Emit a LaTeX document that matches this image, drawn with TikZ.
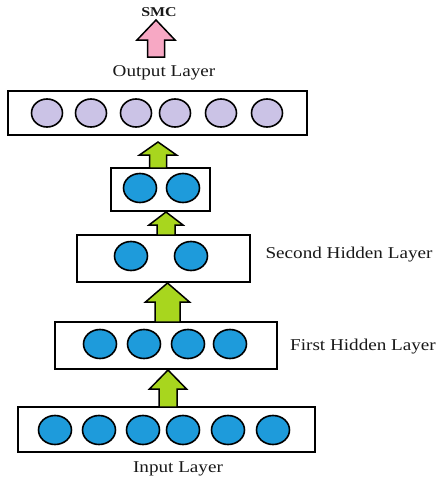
\documentclass[tikz,border=0pt]{standalone}
\usepackage{fontspec}
\setmainfont{Liberation Serif}
\usetikzlibrary{shapes.geometric}
\definecolor{nodeblue}{HTML}{1E9BDB}
\definecolor{nodelilac}{HTML}{CBC3E6}
\definecolor{arrgreen}{HTML}{A8D61E}
\definecolor{arrpink}{HTML}{F7A8C4}
\newcommand\blockarrow[7]{% fill, x, tip, base, bottom, head half, shaft half
  \draw[arrowline, fill=#1] (#2-#7,#5) -- (#2-#7,#4) -- (#2-#6,#4) -- (#2,#3)
    -- (#2+#6,#4) -- (#2+#7,#4) -- (#2+#7,#5) -- cycle;}
\begin{document}
\begin{tikzpicture}[x=1pt,y=-1pt,
  layerbox/.style={draw=black, line width=1.9pt, fill=white},
  neuron/.style={ellipse, draw=black, line width=1.6pt, fill=nodeblue,
    minimum width=33pt, minimum height=29pt, inner sep=0pt},
  outneuron/.style={neuron, fill=nodelilac, minimum width=31pt, minimum height=28pt},
  arrowline/.style={draw=black, line width=1.5pt, line join=miter},
  lbl/.style={font=\fontsize{16.5pt}{18pt}\selectfont, text=black!90, inner sep=0pt}]
\useasboundingbox (0,0) rectangle (437,483);
\fill[white] (0,0) rectangle (437,483);
% layer boxes
\draw[layerbox] (8,91) rectangle (307,135);
\draw[layerbox] (111,168) rectangle (210,211);
\draw[layerbox] (77,235) rectangle (250,282);
\draw[layerbox] (55,322) rectangle (277,369);
\draw[layerbox] (18,407) rectangle (315,452);
% output neurons
\foreach \x [count=\i] in {47,91,136,175,221,267}
  \node[outneuron] (o\i) at (\x,113) {};
% top hidden (2 nodes)
\foreach \x [count=\i] in {140,183}
  \node[neuron] (t\i) at (\x,188) {};
% second hidden layer
\foreach \x [count=\i] in {131,191}
  \node[neuron] (s\i) at (\x,256) {};
% first hidden layer
\foreach \x [count=\i] in {100,144,188,230}
  \node[neuron] (f\i) at (\x,344) {};
% input layer
\foreach \x [count=\i] in {55,99,143,183,228,273}
  \node[neuron] (in\i) at (\x,430) {};
% block arrows
\blockarrow{arrpink}{156}{20}{40}{57}{19}{8.5}
\blockarrow{arrgreen}{158}{142}{155}{168}{18.5}{8.5}
\blockarrow{arrgreen}{166}{212}{225}{235}{17}{9}
\blockarrow{arrgreen}{167.5}{283}{302}{322}{22}{12.5}
\blockarrow{arrgreen}{168}{370}{389}{407}{18.5}{9}
% labels
\node[lbl, font=\fontsize{13.5pt}{15pt}\selectfont\bfseries] (smc) at (159,12) {\scalebox{1.18}[1]{SMC}};
\node[lbl] (outl) at (164,73) {\scalebox{1.16}[1]{Output Layer}};
\node[lbl] (shl) at (349,255) {\scalebox{1.16}[1]{Second Hidden Layer}};
\node[lbl] (fhl) at (363,347) {\scalebox{1.16}[1]{First Hidden Layer}};
\node[lbl] (inl) at (178,469) {\scalebox{1.16}[1]{Input Layer}};
\end{tikzpicture}
\end{document}
